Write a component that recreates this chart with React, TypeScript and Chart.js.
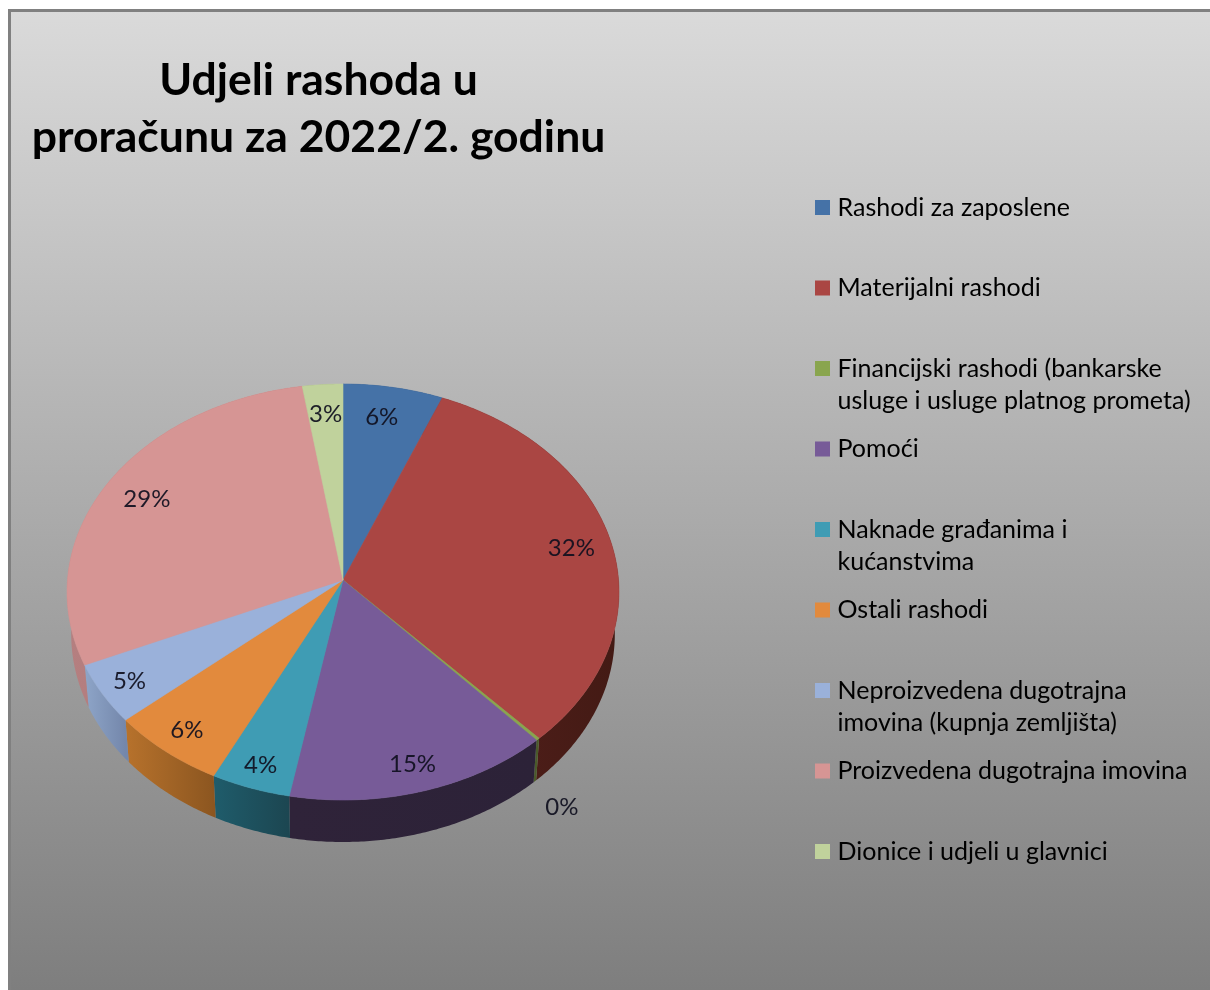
import React, { useEffect, useRef } from "react";
import { Chart, registerables } from "chart.js";

Chart.register(...registerables);

const categories: string[][] = [
  ["Rashodi za zaposlene", ""],
  ["Materijalni rashodi", ""],
  ["Financijski rashodi (bankarske", "usluge i usluge platnog prometa)"],
  ["Pomoći", ""],
  ["Naknade građanima i", "kućanstvima"],
  ["Ostali rashodi", ""],
  ["Neproizvedena dugotrajna", "imovina (kupnja zemljišta)"],
  ["Proizvedena dugotrajna imovina", ""],
  ["Dionice i udjeli u glavnici", ""],
];
const shares = [6.2, 31.9, 0.2, 14.7, 4.4, 6.4, 4.7, 29.1, 2.5];
const shareLabels = ["6%", "32%", "0%", "15%", "4%", "6%", "5%", "29%", "3%"];
const titleLines = ["Udjeli rashoda u", "proračunu za 2022/2. godinu"];
const sliceColors = ["#4572a7", "#aa4643", "#89a54e", "#775b98", "#3f9cb4", "#e28a3d", "#9ab1da", "#d69594", "#c0d29c"];
const wallLeft = ["#2a4565", "#54201c", "#4a5a2a", "#2f2339", "#1f5c6b", "#b7722c", "#8ea5c8", "#b57f80", "#8fa070"];
const wallRight = ["#2a4565", "#431a14", "#4a5a2a", "#2c2238", "#1c4651", "#8c5620", "#7487ab", "#a87375", "#8fa070"];
const labelRadius = [0.84, 0.85, 1, 0.88, 0.895, 0.885, 0.89, 0.83, 0.84];
const labelShiftX = [-4, 0, 24, 0, 0, 0, 0, 0, 0];
const labelShiftY = [0, 0, 68, 0, 0, 0, 0, 0, 0];

// projection of the pie's circular top face
const CX = 343;
const CY = 580;
const RX = 275.5;
const RY = 207.3;
const K = 0.0577;
const DEPTH = 42;
const SHRINK = 0.985;

const project = (t: number, r = 1) => {
  const u = Math.cos(t) * r;
  const v = Math.sin(t) * r;
  const w = 1 - K * v;
  return { x: CX + (RX * u) / w, y: CY + (RY * v) / w };
};

const arcPoints = (a: number, b: number) => {
  const n = Math.max(2, Math.ceil((b - a) / 0.01));
  const pts: { x: number; y: number }[] = [];
  for (let i = 0; i <= n; i++) pts.push(project(a + ((b - a) * i) / n));
  return pts;
};

const piePlugin = {
  id: "pie3d",
  beforeDraw(chart: any) {
    const ctx = chart.ctx;
    ctx.save();
    ctx.fillStyle = "#ffffff";
    ctx.fillRect(0, 0, 1210, 990);
    const g = ctx.createLinearGradient(0, 10, 0, 990);
    g.addColorStop(0, "#dadada");
    g.addColorStop(1, "#7e7e7e");
    ctx.fillStyle = g;
    ctx.fillRect(8, 9, 1202, 981);
    ctx.fillStyle = "#808080";
    ctx.fillRect(8, 9, 1202, 3);
    ctx.fillRect(8, 9, 3, 981);
    ctx.restore();
  },
  afterLayout(chart: any) {
    const lg = chart.legend;
    const w = lg.right - lg.left;
    const h = lg.bottom - lg.top;
    lg.left = 820 - 16.5;
    lg.right = lg.left + w;
    lg.top = 178.5;
    lg.bottom = lg.top + h;
    const tb = chart.titleBlock;
    tb.left = 18;
    tb.right = 619;
    tb.top = 52;
    tb.bottom = 52 + (tb.bottom - tb.top);
    lg.adjustHitBoxes && lg.adjustHitBoxes();
  },
  beforeDatasetsDraw(chart: any) {
    const ctx = chart.ctx;
    const meta = chart.getDatasetMeta(0);
    meta.data.forEach((el: any, i: number) => {
      const a = el.startAngle;
      const b = el.endAngle;
      const top = arcPoints(a, b);
      const xs = top.map((p) => p.x);
      const g = ctx.createLinearGradient(Math.min(...xs), 0, Math.max(...xs) + 0.01, 0);
      g.addColorStop(0, wallLeft[i]);
      g.addColorStop(1, wallRight[i]);
      ctx.beginPath();
      top.forEach((p, j) => (j ? ctx.lineTo(p.x, p.y) : ctx.moveTo(p.x, p.y)));
      [...top].reverse().forEach((p) => ctx.lineTo(CX + (p.x - CX) * SHRINK, p.y + DEPTH));
      ctx.closePath();
      ctx.fillStyle = g;
      ctx.fill();
      el.draw = (c: CanvasRenderingContext2D) => {
        c.save();
        c.beginPath();
        c.moveTo(CX, CY);
        top.forEach((p) => c.lineTo(p.x, p.y));
        c.closePath();
        c.fillStyle = el.options.backgroundColor;
        c.strokeStyle = el.options.backgroundColor;
        c.lineWidth = 0.6;
        c.fill();
        c.stroke();
        c.restore();
      };
    });
  },
  afterDatasetsDraw(chart: any) {
    const ctx = chart.ctx;
    const meta = chart.getDatasetMeta(0);
    ctx.save();
    ctx.font = "24px Lato";
    ctx.fillStyle = "rgba(15,15,30,0.92)";
    ctx.textAlign = "center";
    ctx.textBaseline = "middle";
    meta.data.forEach((el: any, i: number) => {
      const p = project((el.startAngle + el.endAngle) / 2, labelRadius[i]);
      ctx.fillText(shareLabels[i], p.x + labelShiftX[i], p.y + labelShiftY[i]);
    });
    ctx.restore();
  },
};

export default function App() {
  const ref = useRef<HTMLCanvasElement>(null);
  useEffect(() => {
    const chart = new Chart(ref.current as HTMLCanvasElement, {
      type: "pie",
      data: {
        labels: categories as any,
        datasets: [{ data: shares, backgroundColor: sliceColors, borderWidth: 0 }],
      },
      options: {
        animation: false,
        responsive: false,
        plugins: {
          tooltip: { enabled: false },
          title: {
            display: true,
            text: titleLines,
            color: "#000000",
            padding: 0,
            font: { family: "Lato", size: 44.5, weight: "bold", lineHeight: "57px" },
          },
          legend: {
            position: "right",
            align: "start",
            labels: {
              color: "#111111",
              padding: 16.5,
              boxWidth: 5,
              boxHeight: 5,
              font: { family: "Lato", size: 25, lineHeight: "32px" },
              generateLabels: () =>
                categories.map((text, i) => ({
                  text,
                  fillStyle: sliceColors[i],
                  strokeStyle: sliceColors[i],
                  lineWidth: 10,
                  hidden: false,
                  index: i,
                })) as any,
            },
          },
        },
      } as any,
      plugins: [piePlugin as any],
    });
    return () => chart.destroy();
  }, []);
  return (
    <canvas
      ref={ref}
      width={1210}
      height={990}
      style={{ position: "fixed", left: 0, top: 0, width: 1210, height: 990, display: "block" }}
    />
  );
}
